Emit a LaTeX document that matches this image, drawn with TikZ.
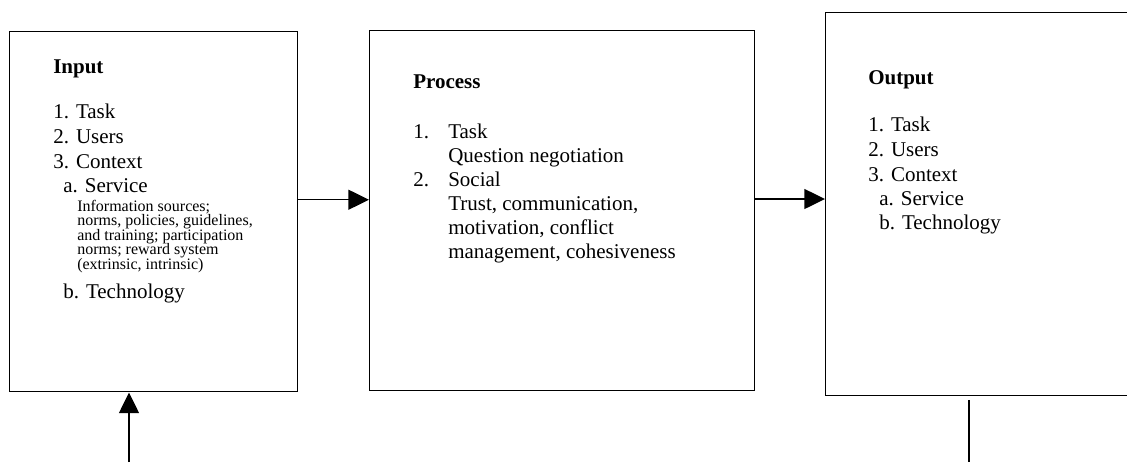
\documentclass[tikz,border=0pt]{standalone}
\usepackage{fontspec}
\setmainfont{Liberation Serif}
\usetikzlibrary{arrows.meta}
\tikzset{
  box/.style={draw, line width=1.1pt, anchor=north west, inner sep=0pt},
  big/.style={anchor=base west, inner sep=0pt, font=\fontsize{15.75}{18}\selectfont},
  small/.style={anchor=base west, inner sep=0pt, font=\fontsize{12}{13}\selectfont},
  head/.style={anchor=base west, inner sep=0pt, font=\fontsize{15.75}{18}\selectfont\bfseries},
  arr/.style={line width=1pt, -{Triangle[length=15.5pt,width=15pt]}},
  plain/.style={line width=1pt},
}
\begin{document}
\begin{tikzpicture}[x=0.75pt,y=-0.75pt]
\useasboundingbox (0,0) rectangle (1127,462);
\clip (0,0) rectangle (1127,462);
% boxes
\node[box, minimum width=216pt, minimum height=270pt] (box1) at (9,31) {};
\node[box, minimum width=288.75pt, minimum height=270pt] (box2) at (369,30) {};
\node[box, minimum width=240pt, minimum height=287.25pt] (box3) at (825,12) {};
% Input text
\node[head] (inh) at (53,73) {Input};
\node[big] (in1) at (53,118) {1. Task};
\node[big] (in2) at (53,143) {2. Users};
\node[big] (in3) at (53,168) {3. Context};
\node[big] (in3a) at (63,192) {a. Service};
\node[small] (ins1) at (77,211) {Information sources;};
\node[small] (ins2) at (77,225.5) {norms, policies, guidelines,};
\node[small] (ins3) at (77,240) {and training; participation};
\node[small] (ins4) at (77,254.5) {norms; reward system};
\node[small] (ins5) at (77,269) {(extrinsic, intrinsic)};
\node[big] (in3b) at (63,298) {b. Technology};
% Process text
\node[head] (prh) at (413,88) {Process};
\node[big] (pr1n) at (413,138) {1.};
\node[big] (pr1) at (448,138) {Task};
\node[big] (pr1t) at (448,162) {Question negotiation};
\node[big] (pr2n) at (413,186) {2.};
\node[big] (pr2) at (448,186) {Social};
\node[big] (pr2a) at (448,210) {Trust, communication,};
\node[big] (pr2b) at (448,234) {motivation, conflict};
\node[big] (pr2c) at (448,258) {management, cohesiveness};
% Output text
\node[head] (outh) at (868,84) {Output};
\node[big] (out1) at (868,131) {1. Task};
\node[big] (out2) at (868,156) {2. Users};
\node[big] (out3) at (868,181) {3. Context};
\node[big] (out3a) at (879,205) {a. Service};
\node[big] (out3b) at (879,229) {b. Technology};
% connectors
\draw[arr] ([yshift=9pt]box1.east) -- ([yshift=9pt]box1.east -| box2.west);
\coordinate (mid2) at (0,199);
\draw[arr] (box2.east |- mid2) -- (box3.west |- mid2);
\coordinate (inbot) at (129,462);
\draw[arr] (inbot) -- (inbot |- box1.south);
\coordinate (outbot) at (969,462);
\draw[plain] ([yshift=-2.5pt]box3.south -| outbot) -- (outbot);
\end{tikzpicture}
\end{document}
